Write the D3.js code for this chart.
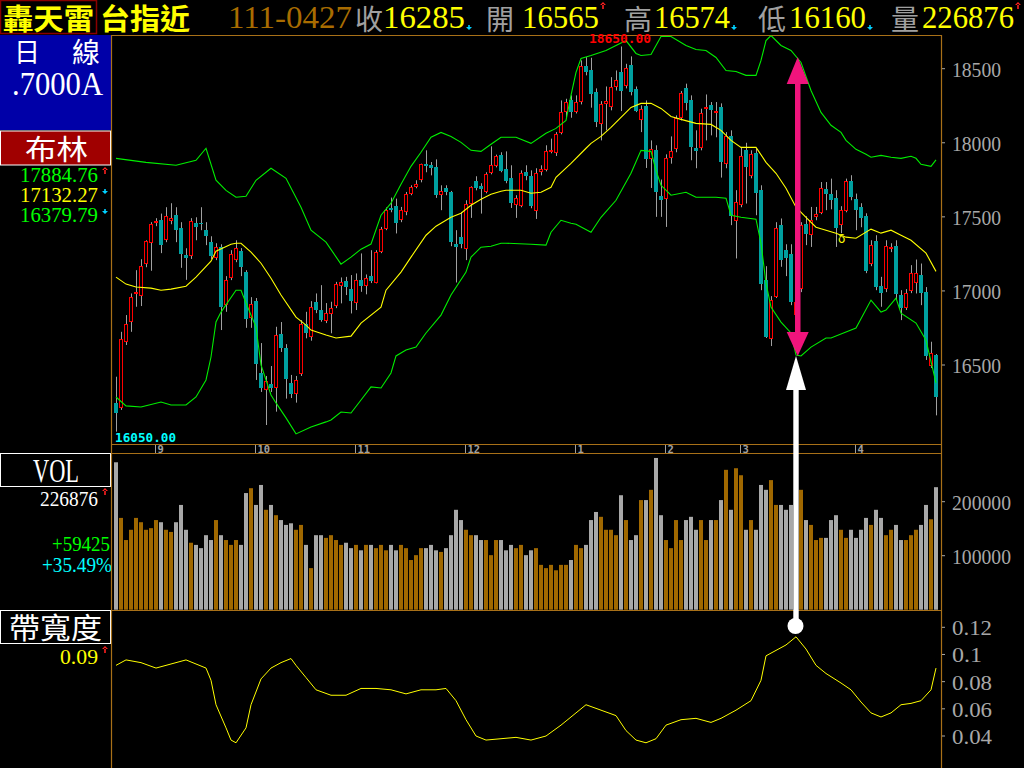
<!DOCTYPE html>
<html><head><meta charset="utf-8">
<script src="https://cdn.jsdelivr.net/npm/d3@7"></script>
<style>body{margin:0;background:#000;overflow:hidden}svg{display:block}</style>
</head><body>
<svg id="c" width="1024" height="768"></svg>
<script>
// ---------- DATA ----------
const opens = [16246,16212,16657,16792,16981,16967,17183,17324,17457,17477,17344,17473,17511,17425,17241,17237,17457,17457,17410,17329,
17223,17295,16906,17088,17210,17268,17127,16819,16931,16446,16333,16372,16347,16709,16615,16379,16306,16441,16778,16691,
16923,16869,16798,16842,16896,17034,17064,17012,16920,17071,17034,17100,17053,17266,17415,17560,17572,17479,17536,17657,
17702,17747,17857,17848,17834,17650,17693,17666,17315,17363,17284,17585,17740,17706,17671,17796,17843,17915,17821,17760,
17583,17576,17805,17778,17540,17803,17819,17940,17931,18066,18207,18291,18207,18275,18515,18493,18340,18126,18264,18241,
18376,18479,18385,18522,18360,18156,18246,17893,17949,17641,17621,17897,17958,18167,18367,18288,17965,17965,18227,18252,
18200,18239,17857,18043,17473,17583,17949,17777,17933,17684,17073,16675,16960,17444,17275,17248,16837,17010,17455,17378,
17500,17526,17686,17657,17624,17444,17540,17740,17619,17567,17504,17181,17338,17034,17010,17282,17302,16972,16882,16997,
17051,17107,16990,16495,16565];
const highs = [16421,16724,16837,16983,17140,17214,17342,17464,17491,17522,17565,17592,17565,17464,17288,17491,17497,17565,17464,17369,
17322,17315,17100,17275,17342,17289,17140,16958,16952,16648,16426,16493,16758,16790,16641,16433,16426,16803,16859,16931,
16983,17039,16918,16927,17061,17091,17095,17107,17118,17253,17111,17275,17275,17432,17563,17630,17623,17567,17668,17713,
17747,17859,17949,17870,17888,17713,17713,17675,17410,17533,17612,17706,17774,17727,17801,17976,17920,17936,17942,17848,
17646,17814,17848,17814,17828,17848,17983,18028,18072,18286,18297,18320,18320,18556,18578,18574,18367,18281,18380,18443,
18488,18650,18533,18583,18380,18252,18286,18016,17983,17752,17922,18043,18185,18349,18399,18320,18084,18230,18326,18275,
18275,18266,18072,18084,17680,17971,18000,17949,17962,17713,17167,16965,17464,17489,17315,17315,16952,17464,17504,17567,
17567,17735,17735,17758,17680,17572,17758,17781,17657,17592,17524,17342,17376,17095,17342,17322,17342,17005,17012,17174,
17212,17185,17026,16657,16574];
const lows = [16050,16197,16635,16724,16893,16898,17160,17136,17437,17255,17329,17450,17329,17156,17075,17216,17342,17410,17309,17216,
17208,16736,16859,17073,17194,17100,16751,16751,16399,16318,16095,16318,16185,16588,16273,16277,16246,16426,16680,16664,
16850,16792,16783,16714,16884,16916,16972,16848,16871,16994,16977,17053,17051,17255,17410,17531,17388,17464,17511,17646,
17693,17733,17801,17780,17628,17545,17646,17302,17057,17288,17208,17493,17679,17522,17659,17787,17834,17801,17727,17560,
17493,17565,17747,17558,17486,17780,17807,17929,17911,18057,18169,18169,18198,18259,18455,18237,18106,18016,18084,18219,
18353,18214,18367,18320,18207,18072,17830,17695,17500,17500,17432,17859,17936,18151,18219,17882,17828,17949,18016,18050,
18037,17765,17828,17444,17219,17565,17590,17760,17511,17005,16682,16628,16952,17163,17100,16904,16817,16992,17309,17297,
17477,17518,17545,17551,17297,17390,17531,17612,17410,17430,17120,17167,17005,16893,16992,17262,16938,16803,16871,16985,
16983,16904,16534,16480,16160];
const closes = [16174,16673,16776,16958,16992,17167,17336,17450,17468,17309,17504,17491,17410,17248,17223,17470,17430,17452,17369,17235,
17295,16891,17073,17248,17289,17160,16812,16911,16509,16345,16392,16345,16702,16615,16405,16306,16399,16776,16714,16893,
16871,16803,16848,16882,17044,17061,17028,16933,17071,17032,17084,17068,17260,17421,17549,17545,17459,17545,17657,17700,
17720,17855,17843,17830,17646,17673,17668,17329,17295,17315,17585,17700,17693,17686,17792,17848,17909,17810,17740,17594,
17626,17799,17776,17574,17794,17826,17947,17954,18062,18207,18275,18207,18275,18515,18477,18326,18140,18259,18279,18374,
18425,18349,18508,18342,18212,18225,17888,17956,17666,17617,17895,17942,18165,18333,18268,17969,17944,18203,18239,18219,
18214,17870,18043,17504,17601,17909,17836,17927,17661,17046,16687,16938,17428,17208,17219,16927,16927,17444,17381,17482,
17518,17698,17657,17612,17428,17545,17740,17634,17545,17495,17136,17309,17028,16987,17304,17293,16976,16882,16987,17118,
17118,16983,16563,16579,16285];
const volumes = [273000,170000,129000,148000,170000,162000,148000,151000,166000,162000,
148000,144000,162000,194000,148000,124000,120000,114000,138000,129000,
166000,138000,129000,120000,129000,120000,216000,225000,194000,231000,
185000,194000,175000,166000,157000,160000,148000,157000,120000,77000,
138000,138000,133000,138000,129000,120000,124000,114000,120000,110000,
120000,120000,114000,120000,110000,120000,110000,120000,114000,92000,
101000,114000,114000,120000,110000,107000,114000,138000,185000,166000,
148000,138000,138000,129000,129000,101000,129000,129000,110000,120000,
114000,120000,101000,110000,114000,83000,77000,83000,73000,83000,
83000,92000,120000,114000,120000,166000,181000,172000,148000,148000,
138000,212000,166000,129000,138000,203000,203000,222000,281000,175000,
129000,114000,166000,129000,166000,172000,148000,166000,129000,166000,
166000,203000,259000,185000,262000,249000,148000,166000,148000,231000,
222000,240000,194000,194000,185000,194000,200000,222000,166000,157000,
129000,133000,133000,166000,175000,148000,133000,148000,133000,148000,
170000,157000,185000,170000,138000,148000,157000,129000,129000,138000,
148000,157000,194000,167451,226876];
// Bollinger bands, read as [candle index, value]
const upperBand = [[0,17895],[6,17868],[12,17848],[16,17882],[18,17963],[20,17747],[22,17679],[24,17632],[26,17639],[28,17747],[31,17828],[34,17760],
[37,17565],[39,17410],[42,17329],[45,17181],[47,17228],[49,17282],[51,17316],[53,17511],[55,17592],[57,17720],[59,17841],[61,17936],[63,18037],
[65,18070],[67,18043],[69,18003],[71,17949],[73,17942],[75,17990],[77,18037],[80,18037],[83,17996],[86,18064],[88,18097],[90,18151],[91,18320],
[92,18475],[93,18569],[95,18589],[98,18623],[100,18657],[102,18690],[104,18603],[105,18589],[107,18596],[109,18717],[111,18717],[114,18657],
[116,18630],[118,18623],[120,18576],[122,18488],[124,18481],[126,18455],[128,18455],[129,18556],[130,18690],[131,18724],[133,18657],[135,18623],
[137,18542],[139,18353],[141,18205],[143,18118],[145,18070],[146,18016],[148,17956],[150,17922],[151,17902],[153,17915],[155,17902],[157,17895],
[159,17909],[160,17895],[161,17855],[163,17841],[164,17885]];
const midBand = [[0,17093],[2,17046],[4,17026],[7,17019],[9,17005],[11,17012],[14,17032],[16,17093],[19,17201],[20,17268],[23,17315],[24,17322],
[25,17322],[27,17262],[29,17187],[31,17086],[33,16972],[36,16823],[38,16769],[39,16736],[42,16702],[44,16682],[47,16695],[49,16783],[53,16891],
[54,17005],[57,17127],[59,17228],[62,17376],[64,17437],[67,17497],[69,17524],[71,17578],[73,17619],[75,17652],[77,17673],[78,17680],[81,17680],
[83,17659],[85,17666],[87,17700],[88,17767],[91,17861],[94,17963],[95,17996],[97,18043],[99,18104],[101,18171],[103,18239],[105,18266],[107,18266],
[109,18232],[111,18178],[113,18158],[116,18131],[119,18124],[121,18084],[123,18016],[125,17969],[128,17969],[130,17868],[132,17794],[134,17693],
[136,17565],[138,17497],[140,17430],[142,17410],[144,17390],[146,17363],[148,17356],[151,17417],[153,17390],[155,17410],[157,17376],[159,17342],
[162,17255],[164,17132]];
const lowerBand = [[0,16284],[2,16224],[5,16217],[9,16250],[11,16230],[14,16230],[16,16284],[18,16399],[19,16554],[20,16790],[21,16857],[24,17005],
[25,17005],[26,16918],[28,16756],[29,16500],[31,16298],[32,16244],[34,16143],[36,16035],[39,16082],[42,16116],[43,16129],[45,16183],[47,16176],
[49,16264],[51,16352],[53,16345],[55,16446],[56,16561],[58,16601],[60,16621],[62,16716],[65,16837],[67,16972],[70,17127],[71,17228],[73,17295],
[75,17302],[77,17322],[78,17322],[83,17315],[86,17309],[87,17396],[89,17477],[91,17457],[92,17450],[95,17396],[97,17497],[100,17612],[103,17794],
[105,17949],[107,17942],[108,17814],[109,17713],[111,17646],[114,17666],[116,17632],[120,17632],[122,17626],[123,17511],[125,17497],[128,17484],
[129,17322],[130,17053],[131,16891],[133,16790],[135,16716],[136,16567],[137,16561],[139,16621],[142,16682],[143,16682],[146,16722],[148,16749],
[151,16938],[153,16857],[154,16871],[156,16952],[157,16850],[160,16783],[162,16668],[164,16380]];
const bandWidth = [[0,0.092],[2,0.096],[5,0.094],[8,0.090],[11,0.093],[14,0.096],[16,0.093],[18,0.090],[19,0.081],[20,0.063],[22,0.046],[23,0.037],
[24,0.035],[26,0.046],[27,0.063],[29,0.082],[31,0.090],[33,0.094],[35,0.097],[36,0.092],[38,0.083],[40,0.074],[43,0.070],[46,0.070],[49,0.075],
[52,0.075],[55,0.074],[58,0.071],[61,0.074],[64,0.074],[66,0.075],[68,0.066],[70,0.052],[72,0.040],[74,0.037],[77,0.038],[80,0.039],[83,0.037],
[86,0.040],[89,0.048],[92,0.057],[94,0.063],[97,0.059],[100,0.055],[102,0.044],[104,0.037],[106,0.035],[108,0.038],[110,0.048],[113,0.052],
[116,0.053],[119,0.050],[121,0.053],[124,0.059],[127,0.066],[129,0.081],[130,0.099],[132,0.103],[134,0.107],[136,0.113],[138,0.104],[140,0.092],
[142,0.086],[145,0.079],[147,0.074],[149,0.065],[151,0.057],[153,0.054],[155,0.057],[157,0.063],[159,0.064],[161,0.066],[163,0.074],[164,0.090]];
const monthStarts = [8,28,48,70,92,110,125,148];
const monthLabels = ["9","10","11","12","1","2","3","4"];
const priceTicks = [16500,17000,17500,18000,18500];
const volTicks = [100000,200000];
const bwTicks = [0.04,0.06,0.08,0.1,0.12];
const priceMax = 18650, priceMin = 16050;

// ---------- DRAW ----------
const svg = d3.select("#c");
const ORANGE = "#a87018", GOLD = "#a06800", GRAY = "#a8a8a8", TEAL = "#00a0a0";
svg.append("rect").attr("width",1024).attr("height",768).attr("fill","#000");

const x = d3.scaleLinear().domain([0,164]).range([116,936]);
const yP = d3.scaleLinear().domain([16500,18500]).range([365,68.7]);
const yV = d3.scaleLinear().domain([0,200000]).range([609.7,501.7]);
const yB = d3.scaleLinear().domain([0.04,0.12]).range([736,627.3]);

const defs = svg.append("defs");
defs.append("clipPath").attr("id","cp").append("rect").attr("x",112).attr("y",35.5).attr("width",829).attr("height",408);
defs.append("clipPath").attr("id","cv").append("rect").attr("x",112).attr("y",454).attr("width",829).attr("height",156);
defs.append("clipPath").attr("id","cb").append("rect").attr("x",112).attr("y",611).attr("width",829).attr("height",157);

function txt(g, px, py, s, o) {
  const t = g.append("text").attr("x",px).attr("y",py).text(s)
    .attr("fill",o.fill||"#fff").attr("font-size",o.size||20)
    .attr("font-family",o.family||"'Liberation Serif',serif");
  if (o.weight) t.attr("font-weight",o.weight);
  if (o.anchor) t.attr("text-anchor",o.anchor);
  if (o.len) t.attr("textLength",o.len).attr("lengthAdjust","spacingAndGlyphs");
  return t;
}
function arrow(g, ax, ay, up, color) {
  const h = 7, w = 3;
  if (up) g.append("path").attr("d",`M${ax},${ay} L${ax-w},${ay+3} L${ax+w},${ay+3} Z M${ax-0.8},${ay+2} h1.6 v${h-2} h-1.6 Z`).attr("fill",color);
  else g.append("path").attr("d",`M${ax},${ay+5} L${ax-w},${ay+2} L${ax+w},${ay+2} Z M${ax-0.8},${ay} h1.6 v3 h-1.6 Z`).attr("fill",color);
}
const CJK = "'Noto Sans CJK TC','Noto Sans CJK SC',sans-serif";

// header
const hd = svg.append("g");
hd.append("rect").attr("x",0.5).attr("y",0.5).attr("width",96).attr("height",33).attr("fill","none").attr("stroke","#8a0000").attr("stroke-width",1.5);
txt(hd,3,30,"轟天雷",{fill:"#ffff00",size:29,family:CJK,len:91,weight:700});
txt(hd,100,30,"台指近",{fill:"#ffff00",size:29,family:CJK,len:90,weight:700});
txt(hd,228,28,"111-0427",{fill:"#a86c00",size:31,len:124});
const hItems = [["收",355,"16285",383,82,false,"#00d0ff"],["開",486,"16565",522,77,true,"#ff2020"],["高",624,"16574",654,76,false,"#00d0ff"],["低",758,"16160",789,77,false,"#00d0ff"],["量",891,"226876",922,92,true,"#ff2020"]];
hItems.forEach(h => {
  txt(hd,h[1],30,h[0],{fill:"#a0a0a0",size:28,family:CJK});
  txt(hd,h[3],28,h[2],{fill:"#ffff00",size:31,len:h[4]});
  const ax = h[3]+h[4]+4;
  if (h[5]) arrow(hd,ax,2,true,h[6]); else arrow(hd,ax,25,false,h[6]);
});

// left panel
const lp = svg.append("g");
lp.append("rect").attr("x",0).attr("y",35).attr("width",111).attr("height",95).attr("fill","#0000a8");
txt(lp,14,62,"日",{size:26,family:CJK});
txt(lp,72,63,"線",{size:28,family:CJK});
txt(lp,12,95,".7000A",{size:33,len:91});
lp.append("rect").attr("x",0.5).attr("y",131).attr("width",110).attr("height",34).attr("fill","#a00000").attr("stroke","#fff").attr("stroke-width",1);
txt(lp,25,160,"布林",{size:28,family:CJK,len:63});
txt(lp,20,182,"17884.76",{fill:"#00ff00",size:21,len:78}); arrow(lp,105,167,true,"#ff2020");
txt(lp,20,202,"17132.27",{fill:"#ffff00",size:21,len:78}); arrow(lp,105,189,false,"#00d0ff");
txt(lp,20,222,"16379.79",{fill:"#00ff00",size:21,len:78}); arrow(lp,105,209,false,"#00d0ff");
lp.append("rect").attr("x",0.5).attr("y",453.5).attr("width",110).attr("height",33).attr("fill","#000").attr("stroke","#fff");
txt(lp,33,482,"VOL",{size:34,len:46});
txt(lp,40,506,"226876",{size:21,len:58}); arrow(lp,105,488,true,"#ff2020");
txt(lp,52,551,"+59425",{fill:"#00ff00",size:21,len:58});
txt(lp,42,572,"+35.49%",{fill:"#00ffff",size:21,len:70});
lp.append("rect").attr("x",0.5).attr("y",610.5).attr("width",110).attr("height",33).attr("fill","#000").attr("stroke","#fff");
txt(lp,9,639,"帶寬度",{size:29,family:CJK,len:93});
txt(lp,60,664,"0.09",{fill:"#ffff00",size:21,len:38}); arrow(lp,105,646,true,"#ff2020");

// frame
const fr = svg.append("g").attr("stroke",ORANGE).attr("stroke-width",1.2);
fr.append("line").attr("x1",111.5).attr("x2",111.5).attr("y1",35).attr("y2",768);
fr.append("line").attr("x1",941.5).attr("x2",941.5).attr("y1",35).attr("y2",768);
[35.5,444.5,453.5,610.5].forEach(yy => fr.append("line").attr("x1",111).attr("x2",942).attr("y1",yy).attr("y2",yy));

// right axes
const ax = svg.append("g");
priceTicks.forEach(p => {
  ax.append("line").attr("x1",942).attr("x2",945).attr("y1",yP(p)).attr("y2",yP(p)).attr("stroke",GRAY);
  txt(ax,952,yP(p)+8,p,{fill:GRAY,size:21,len:49});
});
volTicks.forEach(v => {
  ax.append("line").attr("x1",942).attr("x2",945).attr("y1",yV(v)).attr("y2",yV(v)).attr("stroke",GRAY);
  txt(ax,952,yV(v)+8,v,{fill:GRAY,size:21,len:59});
});
bwTicks.forEach(b => {
  ax.append("line").attr("x1",942).attr("x2",945).attr("y1",yB(b)).attr("y2",yB(b)).attr("stroke",GRAY);
  const s = d3.format("~g")(b);
  txt(ax,952,yB(b)+8,s,{fill:GRAY,size:21,len:s.length*10});
});

// date axis
const da = svg.append("g");
monthStarts.forEach((m,k) => {
  const xx = Math.round(x(m)) - 0.5;
  da.append("line").attr("x1",xx).attr("x2",xx).attr("y1",445).attr("y2",453).attr("stroke","#a0a0a0");
  da.append("text").attr("x",xx+2).attr("y",452.5).text(monthLabels[k]).attr("fill","#a0a0a0")
    .attr("font-size",10.5).attr("font-weight","bold").attr("font-family","'DejaVu Sans Mono',monospace");
});

// candles
const cg = svg.append("g").attr("clip-path","url(#cp)");
opens.forEach((o,i) => {
  const c = closes[i], h = highs[i], l = lows[i];
  const cx = Math.round(x(i));
  cg.append("line").attr("x1",cx+0.5).attr("x2",cx+0.5).attr("y1",yP(h)).attr("y2",yP(l)).attr("stroke","#a0a0a0").attr("stroke-width",1);
  const yo = Math.round(yP(o)), yc = Math.round(yP(c));
  if (c >= o) {
    if (yo - yc <= 1) cg.append("rect").attr("x",cx-2).attr("y",yc-1).attr("width",4).attr("height",2).attr("fill","#ff0000");
    else cg.append("rect").attr("x",cx-1.5).attr("y",yc+0.5).attr("width",3).attr("height",yo-yc-1).attr("fill","#000").attr("stroke","#ff0000").attr("stroke-width",1);
  } else {
    cg.append("rect").attr("x",cx-2).attr("y",yo).attr("width",4).attr("height",Math.max(yc-yo,1)).attr("fill",TEAL);
  }
});

// bollinger lines
const line = d3.line().x(d => x(d[0])).y(d => yP(d[1]));
const bg = svg.append("g").attr("clip-path","url(#cp)").attr("fill","none").attr("stroke-width",1.1);
bg.append("path").attr("d",line(upperBand)).attr("stroke","#00ee00");
bg.append("path").attr("d",line(lowerBand)).attr("stroke","#00ee00");
bg.append("path").attr("d",line(midBand)).attr("stroke","#ffff00");
txt(svg,838,243,"δ",{fill:"#ffff00",size:12,family:"'DejaVu Sans',sans-serif"});

// extreme labels
txt(svg,589,43,priceMax.toFixed(2),{fill:"#ff0000",size:12,weight:"bold",family:"'DejaVu Sans Mono',monospace",len:62});
txt(svg,115,442,priceMin.toFixed(2),{fill:"#00ffff",size:12,weight:"bold",family:"'DejaVu Sans Mono',monospace",len:61});

// volume bars
const vg = svg.append("g").attr("clip-path","url(#cv)");
volumes.forEach((v,i) => {
  const cx = Math.round(x(i));
  vg.append("rect").attr("x",cx-2).attr("y",yV(v)).attr("width",4).attr("height",yV(0)-yV(v))
    .attr("fill", closes[i] >= opens[i] ? GOLD : GRAY);
});

// bandwidth
const bl = d3.line().x(d => x(d[0])).y(d => yB(d[1]));
svg.append("g").attr("clip-path","url(#cb)").append("path").attr("d",bl(bandWidth)).attr("fill","none").attr("stroke","#ffff00").attr("stroke-width",1);

// annotations
const an = svg.append("g");
const MAG = "#f0147c";
an.append("rect").attr("x",795).attr("y",80).attr("width",5.5).attr("height",255).attr("fill",MAG);
an.append("path").attr("d","M797.7,57 L786.7,84 L808.7,84 Z").attr("fill",MAG);
an.append("path").attr("d","M797.7,356 L786.7,332 L808.7,332 Z").attr("fill",MAG);
an.append("rect").attr("x",793.3).attr("y",388).attr("width",5.4).attr("height",238).attr("fill","#fff");
an.append("path").attr("d","M796,356 L786,390 L806,390 Z").attr("fill","#fff");
an.append("circle").attr("cx",795.5).attr("cy",626).attr("r",8).attr("fill","#fff");
</script>
</body></html>
